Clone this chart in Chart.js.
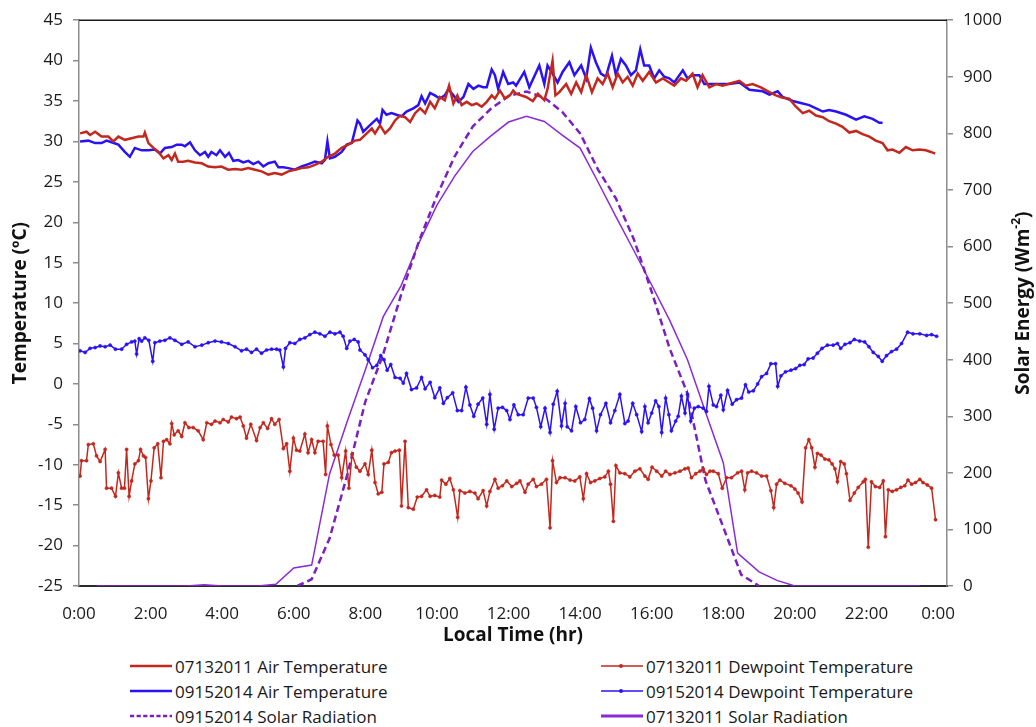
<!DOCTYPE html>
<html>
<head>
<meta charset="utf-8">
<script src="https://cdn.jsdelivr.net/npm/chart.js@4.4.1/dist/chart.umd.min.js"></script>
<style>
  html, body { margin: 0; padding: 0; background: #fff; }
  #wrap { position: relative; width: 1036px; height: 727px; font-family: 'Open Sans', sans-serif; }
  #legend .item { position: absolute; display: flex; align-items: center; height: 20px; font-size: 17px; color: #1a1a1a; white-space: nowrap; }
  #legend svg { margin-right: 3px; }
</style>
</head>
<body>
<div id="wrap">
  <canvas id="tempChart" width="1036" height="650"></canvas>
  <div id="legend"></div>
</div>
<script>
// local time in hours, temperatures in degC, solar in W/m2
const air2011Time = [0.03,0.21,0.31,0.45,0.63,0.82,0.96,1.10,1.28,1.47,1.66,1.80,1.84,1.94,2.08,2.22,2.36,2.50,2.59,2.68,2.77,2.91,3.05,3.24,3.43,3.61,3.80,3.98,4.17,4.36,4.54,4.73,4.92,5.10,5.29,5.47,5.66,5.85,6.03,6.22,6.41,6.59,6.78,6.96,7.15,7.34,7.52,7.71,
  7.85,8.04,8.18,8.27,8.41,8.55,8.69,8.83,8.97,9.11,9.25,9.39,9.53,9.67,9.81,9.94,10.08,10.22,10.34,10.46,10.57,10.69,10.83,10.97,11.11,11.25,11.39,11.53,11.62,11.76,11.90,12.04,12.13,
  12.21,12.49,12.68,12.82,13.00,13.09,13.23,13.31,13.42,13.61,13.75,13.89,14.03,14.17,14.33,14.49,14.63,14.77,14.91,15.05,15.19,15.33,15.47,15.61,15.75,15.93,16.12,16.31,16.49,16.63,16.82,16.96,17.14,17.28,17.42,17.61,17.80,17.98,18.21,18.45,18.63,18.82,19.05,19.29,19.47,19.66,19.84,20.03,20.22,20.40,20.59,20.78,20.96,21.15,21.33,21.52,21.71,21.89,22.08,22.26,22.45,22.59,22.73,22.92,23.10,23.29,23.48,23.66,23.80,23.92];
const air2011 = [31.0,31.2,30.8,31.2,30.6,30.6,30.0,30.6,30.2,30.4,30.6,30.6,31.1,29.8,29.2,28.7,27.9,28.3,27.7,28.5,27.5,27.5,27.6,27.4,27.3,26.9,26.8,26.9,26.5,26.6,26.5,26.7,26.5,26.3,25.9,26.1,25.9,26.3,26.5,26.7,26.8,27.1,27.5,28.1,28.5,29.2,29.6,30.1,
  30.2,31.0,31.6,31.0,32.0,31.0,31.6,32.6,33.2,33.0,32.4,33.5,34.1,33.5,34.9,34.1,35.5,35.1,36.9,34.7,35.7,34.5,34.9,34.5,34.7,34.3,34.9,35.7,35.3,36.3,35.3,35.7,36.3,
  35.9,35.5,35.0,35.9,35.1,36.5,40.0,35.7,36.1,37.1,35.9,37.3,36.1,38.2,36.1,37.8,37.1,38.4,36.7,38.4,37.3,38.0,36.9,38.4,37.5,38.6,37.3,37.8,37.3,36.9,37.8,37.5,38.4,36.7,38.2,36.7,37.1,36.9,37.2,37.5,36.9,37.1,36.7,36.1,35.7,35.4,35.3,34.3,33.5,33.8,33.2,33.0,32.5,32.2,31.8,31.1,31.3,30.9,30.6,30.1,29.8,28.9,29.0,28.6,29.3,28.9,29.0,28.9,28.7,28.5];

const air2014Time = [0.03,0.26,0.45,0.63,0.77,0.91,1.10,1.28,1.42,1.56,1.75,1.94,2.12,2.26,2.40,2.59,2.73,2.87,2.96,3.10,3.24,3.38,3.52,3.61,3.70,3.84,3.94,4.08,4.19,4.31,4.45,4.59,4.73,4.87,5.01,5.15,5.29,5.47,5.57,5.71,5.85,6.03,6.22,6.41,6.59,6.78,6.87,6.94,7.01,7.15,7.34,7.48,7.62,7.78,
  7.85,7.94,8.08,8.22,8.32,8.41,8.48,8.59,8.73,8.87,9.01,9.15,9.34,9.48,9.57,9.67,9.81,9.94,10.08,10.22,10.32,10.46,10.60,10.74,10.88,11.02,11.16,11.29,11.39,11.53,11.62,11.71,11.85,11.99,12.13,
  12.21,12.44,12.58,12.86,13.00,13.09,13.23,13.37,13.51,13.70,13.84,14.03,14.17,14.30,14.44,14.58,14.72,14.89,15.00,15.14,15.28,15.42,15.56,15.68,15.79,15.93,16.07,16.21,16.35,16.49,16.63,16.87,17.00,17.14,17.33,17.47,17.80,18.17,18.45,18.73,19.10,19.29,19.52,19.66,19.94,20.22,20.40,20.59,20.78,20.96,21.15,21.43,21.71,21.94,22.17,22.36,22.45];
const air2014 = [30.0,30.1,29.8,29.8,30.1,29.9,29.6,28.7,28.1,29.2,28.9,28.9,29.0,28.5,29.2,29.3,29.6,29.6,29.4,29.9,28.9,28.3,28.7,28.1,28.7,28.3,28.9,28.1,28.6,27.6,27.7,27.4,27.6,27.2,27.5,26.9,27.3,27.5,26.8,26.8,26.7,26.5,26.9,27.2,27.5,27.3,27.7,30.0,27.9,28.1,28.7,29.6,29.8,32.6,
  32.2,31.2,31.8,32.4,32.8,32.2,33.9,33.3,33.5,33.3,33.1,33.7,34.1,34.5,35.6,34.7,36.0,35.7,35.3,35.7,36.5,35.7,34.9,35.5,37.1,36.5,36.9,36.7,36.7,38.9,38.2,36.5,38.6,37.1,37.3,
  36.9,38.6,36.7,39.4,37.1,39.4,38.4,37.3,38.6,39.8,38.2,39.4,37.8,41.6,39.8,38.4,38.0,40.6,38.2,40.2,39.4,38.2,38.8,41.4,39.4,39.4,37.8,38.8,38.0,37.8,37.3,38.8,37.8,38.2,38.2,37.1,37.1,37.1,37.3,36.4,36.2,35.8,36.2,35.5,35.0,34.7,34.5,34.1,33.7,33.9,33.7,33.3,32.7,33.1,32.8,32.3,32.3];

const dew2011Time = [0.03,0.07,0.21,0.26,0.40,0.49,0.59,0.73,0.77,0.91,1.02,1.10,1.19,1.27,1.33,1.40,1.47,1.56,1.66,1.72,1.80,1.86,1.94,2.01,2.10,2.20,2.29,2.36,2.45,2.54,2.59,2.66,2.77,2.87,2.96,3.07,3.19,3.33,3.47,3.57,3.70,3.80,3.94,4.03,4.17,4.26,4.40,4.50,4.59,4.68,4.80,4.96,5.06,5.15,5.27,5.38,5.47,5.59,5.71,5.80,5.89,5.99,6.08,6.17,6.31,6.40,6.50,6.59,6.68,6.82,6.89,6.94,7.04,7.13,7.24,7.34,7.45,7.54,7.63,7.75,
  7.85,7.99,8.08,8.18,8.27,8.36,8.46,8.52,8.64,8.73,8.83,8.95,9.01,9.11,9.20,9.34,9.45,9.57,9.71,9.81,9.94,10.08,10.13,10.25,10.36,10.46,10.58,10.64,10.78,10.92,11.06,11.15,11.29,11.39,11.48,11.62,11.71,11.83,11.95,12.09,12.23,12.32,12.46,12.55,12.69,12.78,12.92,13.06,13.16,13.23,13.34,13.44,13.58,13.72,13.85,13.99,14.09,14.18,14.29,14.41,14.55,14.69,14.79,14.85,14.93,15.00,15.11,15.25,15.39,15.53,15.67,15.81,
  15.90,16.01,16.14,16.28,16.39,16.51,16.65,16.79,16.93,17.02,17.11,17.23,17.35,17.44,17.53,17.63,17.72,17.86,17.97,18.09,18.23,18.40,18.51,18.60,18.68,18.79,18.93,19.07,19.21,19.33,19.41,19.49,19.58,19.72,19.89,20.00,20.09,20.20,20.30,20.39,20.47,20.56,20.63,20.73,20.84,20.95,21.04,21.12,21.19,21.28,21.38,21.44,21.54,21.66,21.77,21.91,21.97,22.05,22.14,22.25,22.37,22.47,22.53,22.61,22.72,22.84,22.96,23.07,23.16,23.26,23.37,23.49,23.58,23.70,23.82,23.93];
const dew2011 = [-11.4,-9.5,-9.5,-7.5,-7.4,-8.9,-9.6,-8.1,-12.9,-12.9,-13.9,-11.0,-12.9,-12.9,-8.1,-13.9,-12.0,-9.9,-9.5,-8.1,-8.9,-9.1,-14.2,-12.0,-7.9,-7.4,-11.6,-7.1,-6.9,-7.4,-4.9,-6.3,-5.8,-6.5,-4.8,-5.4,-5.4,-5.8,-6.9,-4.8,-5.0,-4.6,-4.8,-4.4,-4.7,-4.1,-4.3,-4.1,-5.2,-6.7,-5.0,-7.0,-5.4,-4.8,-5.5,-4.3,-5.0,-4.4,-8.0,-7.4,-10.8,-6.7,-8.2,-8.3,-6.2,-8.5,-6.9,-8.5,-7.1,-7.1,-11.2,-5.2,-7.5,-8.8,-8.8,-11.6,-8.3,-12.9,-8.7,-10.3,
  -10.8,-9.9,-11.2,-8.2,-12.2,-13.6,-13.4,-9.9,-9.7,-8.5,-8.3,-8.2,-15.1,-7.1,-15.3,-15.5,-14.0,-13.9,-13.1,-13.9,-13.8,-14.0,-11.9,-12.4,-11.7,-13.1,-16.5,-13.2,-13.5,-13.3,-13.5,-14.2,-13.2,-15.1,-13.3,-11.8,-12.9,-12.6,-12.0,-12.7,-12.3,-12.0,-13.4,-12.4,-11.8,-12.7,-12.4,-11.8,-17.8,-9.5,-12.2,-11.6,-11.6,-11.9,-12.0,-11.5,-14.2,-11.1,-12.2,-12.0,-11.7,-11.5,-10.8,-12.4,-17.0,-10.1,-11.0,-11.1,-11.5,-10.8,-10.5,-11.4,
  -11.8,-10.3,-10.8,-11.4,-10.8,-11.2,-11.0,-10.8,-10.5,-10.4,-11.6,-11.1,-10.8,-10.5,-11.2,-10.8,-10.8,-11.1,-12.9,-11.6,-11.6,-11.0,-10.8,-13.1,-11.0,-10.8,-11.0,-11.4,-11.4,-13.2,-15.3,-12.4,-11.9,-12.3,-12.6,-13.0,-13.5,-14.6,-7.9,-6.9,-7.9,-10.3,-8.6,-8.8,-9.3,-9.4,-9.9,-10.5,-12.1,-9.6,-9.9,-11.1,-14.4,-13.5,-12.8,-12.1,-11.8,-20.2,-12.1,-12.7,-12.8,-12.0,-18.9,-13.1,-13.3,-13.1,-12.8,-12.6,-11.9,-12.4,-12.2,-11.8,-12.2,-12.5,-12.9,-16.8];

const dew2014Time = [0.03,0.17,0.31,0.45,0.59,0.73,0.87,1.02,1.19,1.33,1.47,1.56,1.61,1.68,1.75,1.84,1.95,2.06,2.12,2.26,2.40,2.54,2.68,2.87,3.05,3.24,3.43,3.61,3.80,3.98,4.17,4.36,4.54,4.68,4.82,4.96,5.10,5.24,5.38,5.52,5.61,5.71,5.77,5.89,6.03,6.17,6.31,6.45,6.59,6.73,6.87,7.01,7.15,7.29,7.38,7.48,7.57,7.69,7.80,
  7.85,7.99,8.08,8.20,8.32,8.43,8.52,8.61,8.71,8.83,8.97,9.06,9.15,9.29,9.43,9.57,9.67,9.81,9.94,10.08,10.18,10.29,10.44,10.57,10.69,10.81,10.92,11.03,11.15,11.28,11.39,11.48,11.60,11.71,11.83,11.95,12.04,12.15,12.27,12.41,12.55,12.69,12.78,12.90,13.02,13.16,13.25,13.36,13.48,13.58,13.64,13.76,13.88,14.01,14.13,14.26,14.35,14.46,14.57,14.72,14.85,14.97,15.11,15.25,15.34,15.47,15.58,15.72,
  15.81,15.90,16.00,16.11,16.20,16.28,16.39,16.48,16.55,16.67,16.74,16.83,16.93,17.00,17.09,17.19,17.30,17.44,17.53,17.60,17.72,17.81,17.93,18.00,18.12,18.25,18.37,18.51,18.62,18.71,18.84,18.96,19.07,19.21,19.33,19.46,19.52,19.61,19.74,19.89,20.02,20.14,20.26,20.37,20.51,20.63,20.76,20.91,21.07,21.19,21.28,21.40,21.54,21.66,21.81,21.95,22.07,22.19,22.33,22.44,22.56,22.70,22.84,22.98,23.15,23.30,23.49,23.68,23.82,23.96];
const dew2014 = [4.1,3.9,4.4,4.5,4.7,4.6,4.8,4.3,4.3,4.9,5.2,5.3,3.7,5.6,5.3,5.7,5.4,2.8,5.1,5.3,5.4,5.7,5.4,4.9,5.2,4.6,4.8,5.1,5.3,5.2,5.0,4.6,4.1,4.3,3.9,4.3,3.8,4.2,4.3,4.3,4.2,2.1,4.4,5.1,5.0,5.5,5.7,6.1,6.4,6.2,5.9,6.4,6.2,6.4,5.9,4.4,5.3,5.5,5.2,
  4.2,3.6,3.0,2.0,2.3,3.5,3.0,1.7,2.4,0.8,0.7,0.1,1.3,-0.7,-0.5,0.8,-0.6,0.2,-1.7,-0.5,-2.4,-1.7,-1.1,-3.3,-3.3,-0.4,-2.6,-4.0,-2.5,-1.75,-5.0,-1.3,-5.6,-3.0,-2.9,-3.3,-4.4,-2.6,-3.8,-3.8,-1.75,-1.75,-2.9,-5.3,-3.0,-6.0,-2.5,-0.9,-5.2,-2.4,-5.3,-5.8,-2.8,-4.8,-4.4,-1.8,-3.0,-5.8,-3.8,-2.4,-4.8,-3.3,-1.3,-4.9,-4.6,-2.4,-3.8,-5.9,
  -2.8,-4.8,-3.6,-2.1,-2.8,-6.0,-1.75,-3.8,-5.8,-4.6,-4.0,-1.5,-3.6,-1.3,-4.6,-3.0,-2.8,-3.0,-3.4,-0.3,-2.6,-2.8,-1.4,-3.2,-0.8,-2.5,-1.95,-1.75,-0.1,-1.0,-0.85,0.0,0.9,1.3,2.5,2.5,-0.3,1.0,1.5,1.7,1.9,2.3,2.4,3.1,3.2,3.8,4.4,4.8,4.8,5.0,4.4,4.9,5.1,5.5,5.3,5.2,4.6,3.9,3.4,2.8,3.5,4.0,4.3,5.0,6.4,6.2,6.2,6.0,6.1,5.9];

const solar2014Time = [6.1,6.5,7.0,7.5,8.0,8.5,9.0,9.5,10.0,10.5,11.0,11.5,12.0,12.5,13.0,13.5,14.0,14.5,15.0,15.5,16.0,16.5,17.0,17.5,18.0,18.5,19.0];
const solar2014 = [0,12,84,198,326,410,515,610,690,760,812,843,866,874,863,838,800,736,685,613,520,420,340,187,104,20,0];

const solar2011Time = [0.5,1,2,3,3.5,4,5,5.5,6,6.5,7,7.5,8,8.5,9,9.5,10,10.5,11,11.5,12,12.5,13,13.5,14,14.5,15,15.5,16,16.5,17,17.5,18,18.4,19,19.5,20,21,22,23,23.5];
const solar2011 = [0,0,0,0,2,0,0,3,32,37,198,292,382,476,531,607,673,725,768,795,820,830,821,797,774,714,653,593,532,470,400,308,218,58,25,10,0,0,0,0,0];

const hourTicks = [0,2,4,6,8,10,12,14,16,18,20,22,24];

const RED = '#c2281e';
const BLUE = '#2a12f2';
const PURPLE_D = '#7a1fc2';
const PURPLE_S = '#8a2bd6';
const FONT = "'Open Sans', sans-serif";

const pts = (t, v) => t.map((x, i) => ({x: x, y: v[i]}));

const topLineAndRightTitle = {
  id: 'topLineAndRightTitle',
  afterDraw(chart) {
    const ctx = chart.ctx;
    const a = chart.chartArea;
    ctx.save();
    ctx.strokeStyle = '#1a1a1a';
    ctx.lineWidth = 1.5;
    ctx.beginPath();
    ctx.moveTo(a.left, a.top);
    ctx.lineTo(a.right, a.top);
    ctx.stroke();

    // right axis title reads bottom-to-top in the figure
    ctx.translate(1024, (a.top + a.bottom) / 2);
    ctx.rotate(-Math.PI / 2);
    ctx.fillStyle = '#111';
    ctx.textBaseline = 'middle';
    ctx.textAlign = 'left';
    const big = 'bold 19px ' + FONT, small = 'bold 12px ' + FONT;
    ctx.font = big;
    const w1 = ctx.measureText('Solar Energy (Wm').width;
    const w3 = ctx.measureText(')').width;
    ctx.font = small;
    const w2 = ctx.measureText('-2').width;
    const x0 = -(w1 + w2 + w3) / 2;
    ctx.font = big;
    ctx.fillText('Solar Energy (Wm', x0, 0);
    ctx.fillText(')', x0 + w1 + w2, 0);
    ctx.font = small;
    ctx.fillText('-2', x0 + w1, -7);
    ctx.restore();
  }
};

const chart = new Chart(document.getElementById('tempChart'), {
  type: 'line',
  data: {
    datasets: [
      { label: '07132011 Air Temperature', data: pts(air2011Time, air2011), borderColor: RED, borderWidth: 2.5, pointRadius: 0, yAxisID: 'y' },
      { label: '09152014 Air Temperature', data: pts(air2014Time, air2014), borderColor: BLUE, borderWidth: 2.5, pointRadius: 0, yAxisID: 'y' },
      { label: '07132011 Dewpoint Temperature', data: pts(dew2011Time, dew2011), borderColor: RED, borderWidth: 1.5, pointRadius: 1.6, pointBackgroundColor: RED, pointBorderColor: RED, pointBorderWidth: 0.5, yAxisID: 'y' },
      { label: '09152014 Dewpoint Temperature', data: pts(dew2014Time, dew2014), borderColor: BLUE, borderWidth: 1.5, pointRadius: 1.6, pointBackgroundColor: BLUE, pointBorderColor: BLUE, pointBorderWidth: 0.5, yAxisID: 'y' },
      { label: '09152014 Solar Radiation', data: pts(solar2014Time, solar2014), borderColor: PURPLE_D, borderWidth: 2.5, borderDash: [7, 4], pointRadius: 0, yAxisID: 'y1' },
      { label: '07132011 Solar Radiation', data: pts(solar2011Time, solar2011), borderColor: PURPLE_S, borderWidth: 1.5, pointRadius: 0, yAxisID: 'y1' }
    ]
  },
  options: {
    responsive: false,
    animation: false,
    devicePixelRatio: 1,
    layout: { padding: { top: 16, left: 0, right: 0, bottom: 0 } },
    plugins: { legend: { display: false }, tooltip: { enabled: false } },
    elements: { line: { tension: 0 } },
    scales: {
      x: {
        type: 'linear', min: 0, max: 24.25,
        afterBuildTicks: s => { s.ticks = hourTicks.map(v => ({value: v})); },
        afterFit: s => { s.height = 64; },
        ticks: { autoSkip: false, maxRotation: 0, padding: 10, color: '#1a1a1a', font: { family: FONT, size: 17 },
          callback: v => (v % 24) + ':00' },
        grid: { display: false },
        border: { color: '#2a2a2a', width: 2 },
        title: { display: true, text: 'Local Time (hr)', color: '#111', font: { family: FONT, size: 19, weight: 'bold' }, padding: { top: 0, bottom: 3 } }
      },
      y: {
        position: 'left', min: -25, max: 45,
        afterFit: s => { s.width = 79; },
        ticks: { stepSize: 5, autoSkip: false, padding: 10, color: '#1a1a1a', font: { family: FONT, size: 17 } },
        grid: { drawOnChartArea: false, tickLength: 6, color: '#8c8c8c', lineWidth: 1.5 },
        border: { color: '#8c8c8c', width: 1.5 },
        title: { display: true, text: 'Temperature (ºC)', color: '#111', font: { family: FONT, size: 19, weight: 'bold' }, padding: { top: 9, bottom: 0 } }
      },
      y1: {
        position: 'right', min: 0, max: 1000,
        afterFit: s => { s.width = 89; },
        ticks: { stepSize: 100, autoSkip: false, padding: 10, color: '#1a1a1a', font: { family: FONT, size: 17 },
          callback: v => String(v) },
        grid: { drawOnChartArea: false, tickLength: 6, color: '#8c8c8c', lineWidth: 1.5 },
        border: { color: '#8c8c8c', width: 1.5 }
      }
    }
  },
  plugins: [topLineAndRightTitle]
});

// two-column legend below the chart, rows as in the figure
const legendRows = [
  ['07132011 Air Temperature', '07132011 Dewpoint Temperature'],
  ['09152014 Air Temperature', '09152014 Dewpoint Temperature'],
  ['09152014 Solar Radiation', '07132011 Solar Radiation']
];
const legendEl = document.getElementById('legend');
const colX = [130, 601];
legendRows.forEach((row, r) => {
  row.forEach((label, c) => {
    const ds = chart.data.datasets.find(d => d.label === label);
    const dash = ds.borderDash ? ` stroke-dasharray="${ds.borderDash.map(d => d * 0.6).join(' ')}"` : '';
    const marker = ds.pointRadius ? `<circle cx="20" cy="6" r="2" fill="${ds.borderColor}"/>` : '';
    const lw = ds.yAxisID === 'y1' && !ds.borderDash ? 3 : ds.borderWidth;
    const item = document.createElement('div');
    item.className = 'item';
    item.style.left = colX[c] + 'px';
    item.style.top = (656 + r * 25) + 'px';
    item.innerHTML = `<svg width="42" height="12"><line x1="0" y1="6" x2="42" y2="6" stroke="${ds.borderColor}" stroke-width="${lw}"${dash}/>${marker}</svg><span>${label}</span>`;
    legendEl.appendChild(item);
  });
});
</script>
</body>
</html>
